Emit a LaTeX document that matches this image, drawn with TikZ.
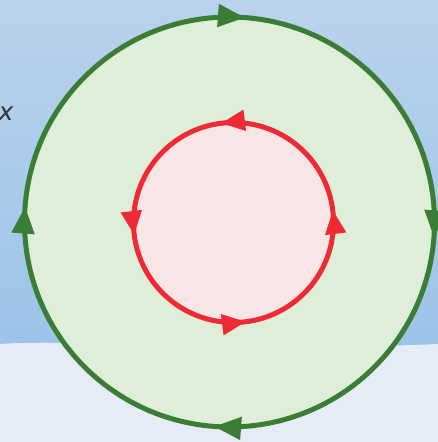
\documentclass[tikz,border=0pt]{standalone}
\usepackage{fontspec}
\newfontfamily\labfont{DejaVu Sans}
\usetikzlibrary{decorations.markings,arrows.meta}
\definecolor{skytop}{RGB}{186,210,236}
\definecolor{skybot}{RGB}{155,195,233}
\definecolor{snow}{RGB}{229,236,245}
\definecolor{gline}{RGB}{58,125,53}
\definecolor{gfill}{RGB}{223,238,216}
\definecolor{rline}{RGB}{238,42,53}
\definecolor{rfill}{RGB}{248,230,230}
\tikzset{
  ring/.style={line width=5pt},
  garrows/.style={postaction={decorate},decoration={markings,
    mark=at position 0.137 with {\arrow{Triangle[length=27pt,width=22pt]}},
    mark=at position 0.387 with {\arrow{Triangle[length=27pt,width=22pt]}},
    mark=at position 0.637 with {\arrow{Triangle[length=27pt,width=22pt]}},
    mark=at position 0.887 with {\arrow{Triangle[length=27pt,width=22pt]}}}},
  rarrows/.style={postaction={decorate},decoration={markings,
    mark=at position 0.145 with {\arrow{Triangle[length=24pt,width=20pt]}},
    mark=at position 0.395 with {\arrow{Triangle[length=24pt,width=20pt]}},
    mark=at position 0.645 with {\arrow{Triangle[length=24pt,width=20pt]}},
    mark=at position 0.895 with {\arrow{Triangle[length=24pt,width=20pt]}}}}
}
\begin{document}
\begin{tikzpicture}[x=1pt,y=1pt]
\useasboundingbox (0,0) rectangle (438,442);
% background
\shade[top color=skytop,bottom color=skybot] (0,95) rectangle (438,442);
\fill[snow] (0,0) -- (0,98) .. controls (60,102) and (120,95) .. (200,97)
  .. controls (280,99) and (360,94) .. (438,98) -- (438,0) -- cycle;
% text
\node[text=black!80,font=\labfont\itshape\fontsize{25}{27}\selectfont,inner sep=0pt] (xlab) at (6,328) {x};
% centers
\coordinate (gc) at (229.5,220);
\coordinate (rc) at (233.5,219.5);
% green circle (clockwise)
\fill[gfill] (gc) circle[radius=205];
\draw[ring,gline,garrows] (gc) ++(45:205) arc[start angle=45,end angle=-315,radius=205];
% red circle (counterclockwise)
\fill[rfill] (rc) circle[radius=100];
\draw[ring,rline,rarrows] (rc) ++(45:100) arc[start angle=45,end angle=405,radius=100];
\end{tikzpicture}
\end{document}
